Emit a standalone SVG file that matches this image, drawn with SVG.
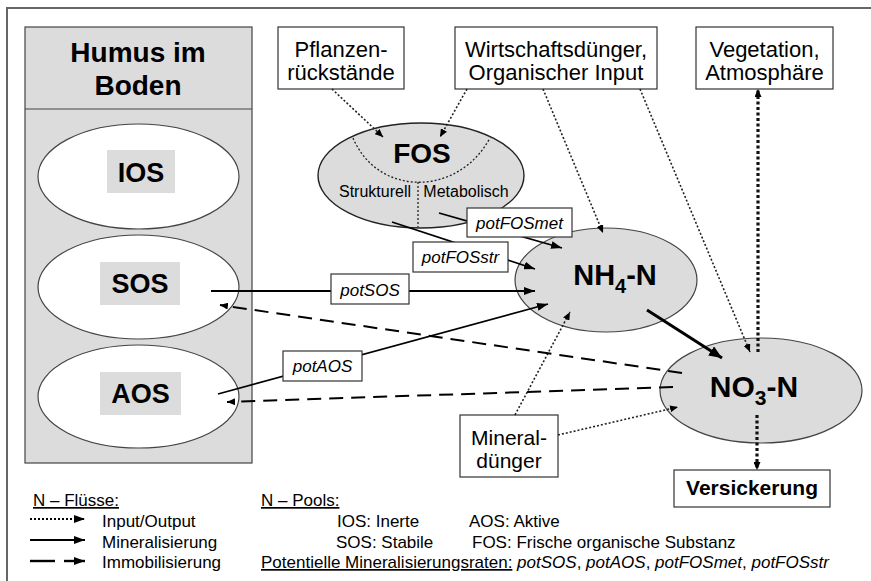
<svg xmlns="http://www.w3.org/2000/svg" width="871" height="581" viewBox="0 0 871 581">
<style>
text{font-family:"Liberation Sans",Arial,sans-serif;fill:#000}
.box{fill:#fff;stroke:#333;stroke-width:1.2}
.gray{fill:#dcdcdc;stroke:#444;stroke-width:1.2}
.ell{fill:#fff;stroke:#444;stroke-width:1.2}
.tag{fill:#dcdcdc;stroke:none}
.big{font-size:28px;font-weight:bold}
.node{font-size:22px}
.lbl{font-size:17px;font-style:italic}
.leg{font-size:17px}
.dot{fill:none;stroke:#222;stroke-width:1.6;stroke-dasharray:2 2}
.tdot{fill:none;stroke:#111;stroke-width:3.2;stroke-dasharray:3 2.5}
.sol{fill:none;stroke:#000;stroke-width:1.8}
.tsol{fill:none;stroke:#000;stroke-width:3}
.dash{fill:none;stroke:#000;stroke-width:2;stroke-dasharray:14 8}
</style>
<defs>
<marker id="as" viewBox="0 0 8 7" refX="8" refY="3.5" markerWidth="8" markerHeight="7" markerUnits="userSpaceOnUse" orient="auto"><path d="M0,0 L8,3.5 L0,7 z" fill="#000"/></marker>
<marker id="am" viewBox="0 0 11 8" refX="11" refY="4" markerWidth="11" markerHeight="8" markerUnits="userSpaceOnUse" orient="auto"><path d="M0,0 L11,4 L0,8 z" fill="#000"/></marker>
<marker id="al" viewBox="0 0 13 11" refX="13" refY="5.5" markerWidth="13" markerHeight="11" markerUnits="userSpaceOnUse" orient="auto"><path d="M0,0 L13,5.5 L0,11 z" fill="#000"/></marker>
</defs>
<rect width="871" height="581" fill="#fff"/>
<path d="M7,581 V8 H871" fill="none" stroke="#666" stroke-width="2"/>

<g id="humus">
<rect class="gray" x="25" y="27" width="227" height="436"/>
<line x1="25" y1="109" x2="252" y2="109" stroke="#444" stroke-width="1.2"/>
<text class="big" x="138" y="62" text-anchor="middle">Humus im</text>
<text class="big" x="138" y="95" text-anchor="middle">Boden</text>
</g>
<g id="ios">
<ellipse class="ell" cx="138.5" cy="176.5" rx="100.5" ry="52.5"/>
<rect class="tag" x="107" y="150" width="68" height="43"/>
<text class="big" x="141" y="182" text-anchor="middle" style="font-size:27px">IOS</text>
</g>
<g id="sos">
<ellipse class="ell" cx="138.5" cy="287" rx="100.5" ry="52"/>
<rect class="tag" x="100" y="262" width="80" height="43"/>
<text class="big" x="140" y="293" text-anchor="middle" style="font-size:27px">SOS</text>
</g>
<g id="aos">
<ellipse class="ell" cx="138.5" cy="396.5" rx="100.5" ry="51.5"/>
<rect class="tag" x="100" y="372" width="81" height="43"/>
<text class="big" x="140.5" y="403" text-anchor="middle" style="font-size:27px">AOS</text>
</g>

<g id="pflanzen">
<rect class="box" x="278" y="27" width="126" height="62"/>
<text class="node" x="341" y="57" text-anchor="middle">Pflanzen-</text>
<text class="node" x="341" y="80" text-anchor="middle">rückstände</text>
</g>
<g id="wirtschaft">
<rect class="box" x="455" y="27" width="202" height="62"/>
<text class="node" x="556" y="57" text-anchor="middle">Wirtschaftsdünger,</text>
<text class="node" x="556" y="80" text-anchor="middle">Organischer Input</text>
</g>
<g id="vegetation">
<rect class="box" x="696" y="27" width="137" height="62"/>
<text class="node" x="764.5" y="57" text-anchor="middle">Vegetation,</text>
<text class="node" x="764.5" y="80" text-anchor="middle">Atmosphäre</text>
</g>

<g id="fos">
<ellipse cx="421" cy="175.5" rx="103" ry="52.5" fill="#dcdcdc" stroke="#222" stroke-width="1.4"/>
<path class="dot" d="M353,138 C378,197 458,197 490,138" style="stroke-width:1.3"/>
<line class="dot" x1="418" y1="182" x2="418" y2="227" style="stroke-width:1.3"/>
<text class="big" x="422" y="163" text-anchor="middle">FOS</text>
<text x="375" y="197" text-anchor="middle" style="font-size:16px">Strukturell</text>
<text x="466" y="197" text-anchor="middle" style="font-size:16px">Metabolisch</text>
</g>

<g id="nh4">
<ellipse cx="606" cy="280" rx="91" ry="52" fill="#dcdcdc" stroke="#444" stroke-width="1.2"/>
<text class="big" x="615" y="285" text-anchor="middle" style="font-size:29px">NH<tspan dy="8" style="font-size:20px">4</tspan><tspan dy="-8">-N</tspan></text>
</g>
<g id="no3">
<ellipse cx="761" cy="390.5" rx="101" ry="52.5" fill="#dcdcdc" stroke="#444" stroke-width="1.2"/>
<text class="big" x="754" y="397" text-anchor="middle" style="font-size:30px">NO<tspan dy="8" style="font-size:21px">3</tspan><tspan dy="-8">-N</tspan></text>
</g>

<g id="mineral">
<rect class="box" x="460" y="415" width="98" height="62"/>
<text class="node" x="509" y="445" text-anchor="middle" style="font-size:21px">Mineral-</text>
<text class="node" x="509" y="468" text-anchor="middle" style="font-size:21px">dünger</text>
</g>
<g id="versickerung">
<rect class="box" x="674" y="470" width="156" height="37"/>
<text x="752" y="495" text-anchor="middle" style="font-size:21px;font-weight:bold">Versickerung</text>
</g>

<g id="connectors">
<line class="dot" x1="332" y1="89" x2="383" y2="137" marker-end="url(#as)"/>
<line class="dot" x1="467" y1="89" x2="440" y2="137" marker-end="url(#as)"/>
<line class="dot" x1="543" y1="89" x2="603" y2="233" marker-end="url(#as)"/>
<line class="dot" x1="640" y1="89" x2="750" y2="352" marker-end="url(#as)"/>
<line class="tdot" x1="758" y1="352" x2="758" y2="89" marker-end="url(#as)"/>
<line class="tdot" x1="757" y1="415" x2="757" y2="470" marker-end="url(#as)"/>
<line class="dot" x1="515" y1="415" x2="570" y2="312" marker-end="url(#as)"/>
<line class="dot" x1="558" y1="435" x2="678" y2="407" marker-end="url(#as)"/>
<line class="sol" x1="392" y1="222" x2="535" y2="269" marker-end="url(#am)"/>
<line class="sol" x1="439" y1="213" x2="562" y2="248" marker-end="url(#am)"/>
<line class="sol" x1="211" y1="291" x2="535" y2="291" marker-end="url(#am)"/>
<line class="sol" x1="218" y1="394" x2="548" y2="304" marker-end="url(#am)"/>
<line class="tsol" x1="647" y1="310" x2="722" y2="358" marker-end="url(#al)"/>
<line class="dash" x1="682" y1="373" x2="220" y2="305" marker-end="url(#as)"/>
<line class="dash" x1="673" y1="387" x2="227" y2="402" marker-end="url(#as)"/>
</g>

<g id="labels">
<g id="lbl-potFOSmet"><rect class="box" x="467" y="208" width="105" height="29"/><text class="lbl" x="519.5" y="229" text-anchor="middle">potFOSmet</text></g>
<g id="lbl-potFOSstr"><rect class="box" x="413" y="242" width="95" height="30"/><text class="lbl" x="460.5" y="263" text-anchor="middle">potFOSstr</text></g>
<g id="lbl-potSOS"><rect class="box" x="331" y="274" width="78" height="30"/><text class="lbl" x="370" y="296" text-anchor="middle">potSOS</text></g>
<g id="lbl-potAOS"><rect class="box" x="283" y="351" width="79" height="30"/><text class="lbl" x="322.5" y="372" text-anchor="middle">potAOS</text></g>
</g>

<g id="legend">
<text class="leg" x="33" y="506" text-decoration="underline">N – Flüsse:</text>
<line x1="30" y1="519" x2="85" y2="519" stroke="#000" stroke-width="2.2" stroke-dasharray="2 2" marker-end="url(#am)"/>
<line x1="30" y1="540" x2="85" y2="540" stroke="#000" stroke-width="2.2" marker-end="url(#am)"/>
<line x1="30" y1="561" x2="55" y2="561" stroke="#000" stroke-width="2.4"/>
<line x1="64" y1="561" x2="85" y2="561" stroke="#000" stroke-width="2.4" marker-end="url(#am)"/>
<text class="leg" x="102" y="527">Input/Output</text>
<text class="leg" x="102" y="548">Mineralisierung</text>
<text class="leg" x="102" y="568">Immobilisierung</text>
<text class="leg" x="261" y="506" text-decoration="underline">N – Pools:</text>
<text class="leg" x="337" y="527">IOS: Inerte</text>
<text class="leg" x="469" y="527">AOS: Aktive</text>
<text class="leg" x="336" y="548">SOS: Stabile</text>
<text class="leg" x="472" y="548">FOS: Frische organische Substanz</text>
<text class="leg" x="261" y="568"><tspan text-decoration="underline">Potentielle Mineralisierungsraten:</tspan> <tspan font-style="italic">potSOS</tspan>, <tspan font-style="italic">potAOS</tspan>, <tspan font-style="italic">potFOSmet</tspan>, <tspan font-style="italic">potFOSstr</tspan></text>
</g>
</svg>
